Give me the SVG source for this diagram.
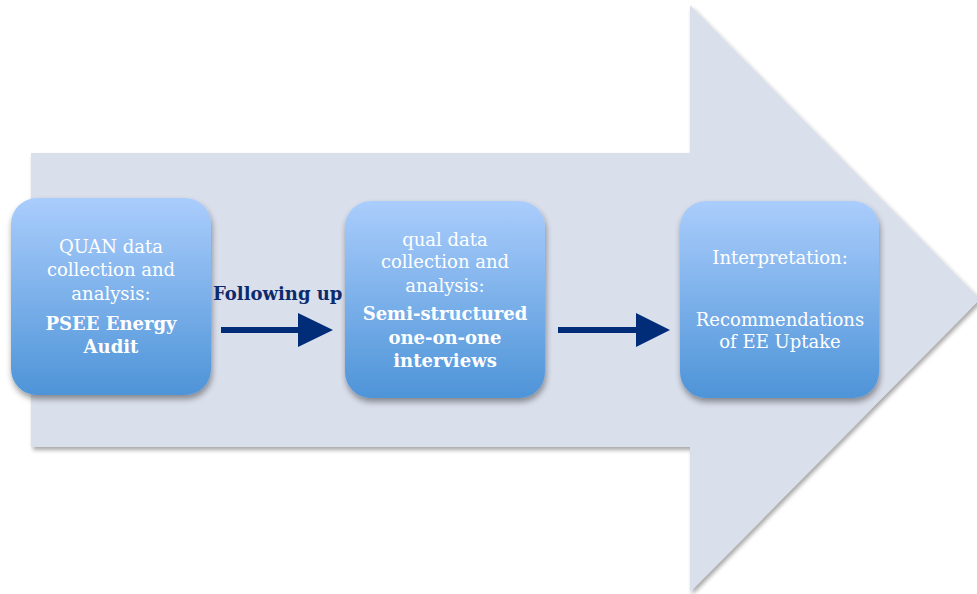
<svg xmlns="http://www.w3.org/2000/svg" width="977" height="594" viewBox="0 0 977 594">
  <defs>
    <linearGradient id="boxFill" x1="0" y1="0" x2="0" y2="1">
      <stop offset="0" stop-color="#AACDFC"/>
      <stop offset="1" stop-color="#4E94D8"/>
    </linearGradient>
    <filter id="bigShadow" x="-5%" y="-5%" width="110%" height="110%">
      <feGaussianBlur in="SourceAlpha" stdDeviation="2"/>
      <feOffset dx="2" dy="3" result="b"/>
      <feComponentTransfer><feFuncA type="linear" slope="0.35"/></feComponentTransfer>
      <feMerge><feMergeNode/><feMergeNode in="SourceGraphic"/></feMerge>
    </filter>
    <filter id="boxShadow" x="-10%" y="-10%" width="120%" height="125%">
      <feGaussianBlur in="SourceAlpha" stdDeviation="3"/>
      <feOffset dx="1" dy="4" result="b"/>
      <feComponentTransfer><feFuncA type="linear" slope="0.4"/></feComponentTransfer>
      <feMerge><feMergeNode/><feMergeNode in="SourceGraphic"/></feMerge>
    </filter>
  </defs>
  <style>
    .box { fill: url(#boxFill); filter: url(#boxShadow); }
    .t { font-family: "DejaVu Serif", "Liberation Serif", serif; font-size: 18px; fill: #FFFFFF; text-anchor: middle; }
    .b { font-weight: bold; }
    .conn { fill: #002C78; }
    .lbl { font-family: "DejaVu Serif", "Liberation Serif", serif; font-size: 18px; font-weight: bold; fill: #0C2B6C; }
  </style>

  <rect width="977" height="594" fill="#FFFFFF"/>

  <!-- large background process arrow -->
  <path d="M31 153 H690 V5 L980 299 L690 592 V447 H31 Z" fill="#DADFEC" filter="url(#bigShadow)"/>

  <g id="node-quan">
    <rect class="box" x="11" y="198" width="200" height="197" rx="26"/>
    <text class="t" x="111" y="253">QUAN data</text>
    <text class="t" x="111" y="276">collection and</text>
    <text class="t" x="111" y="300">analysis:</text>
    <text class="t b" x="111" y="330">PSEE Energy</text>
    <text class="t b" x="111" y="353">Audit</text>
  </g>

  <g id="node-qual">
    <rect class="box" x="345" y="201" width="200" height="197" rx="26"/>
    <text class="t" x="445" y="246">qual data</text>
    <text class="t" x="445" y="268">collection and</text>
    <text class="t" x="445" y="292">analysis:</text>
    <text class="t b" x="445" y="320">Semi-structured</text>
    <text class="t b" x="445" y="344">one-on-one</text>
    <text class="t b" x="445" y="367">interviews</text>
  </g>

  <g id="node-interp">
    <rect class="box" x="680" y="201" width="199" height="197" rx="26"/>
    <text class="t" x="780" y="264">Interpretation:</text>
    <text class="t" x="780" y="326">Recommendations</text>
    <text class="t" x="780" y="348">of EE Uptake</text>
  </g>

  <g id="connectors">
    <path class="conn" d="M221 327 H298 V313 L333 330 L298 347 V333 H221 Z"/>
    <text class="lbl" x="213" y="300">Following up</text>
    <path class="conn" d="M558 327 H636 V313 L670 330 L636 347 V333 H558 Z"/>
  </g>
</svg>
